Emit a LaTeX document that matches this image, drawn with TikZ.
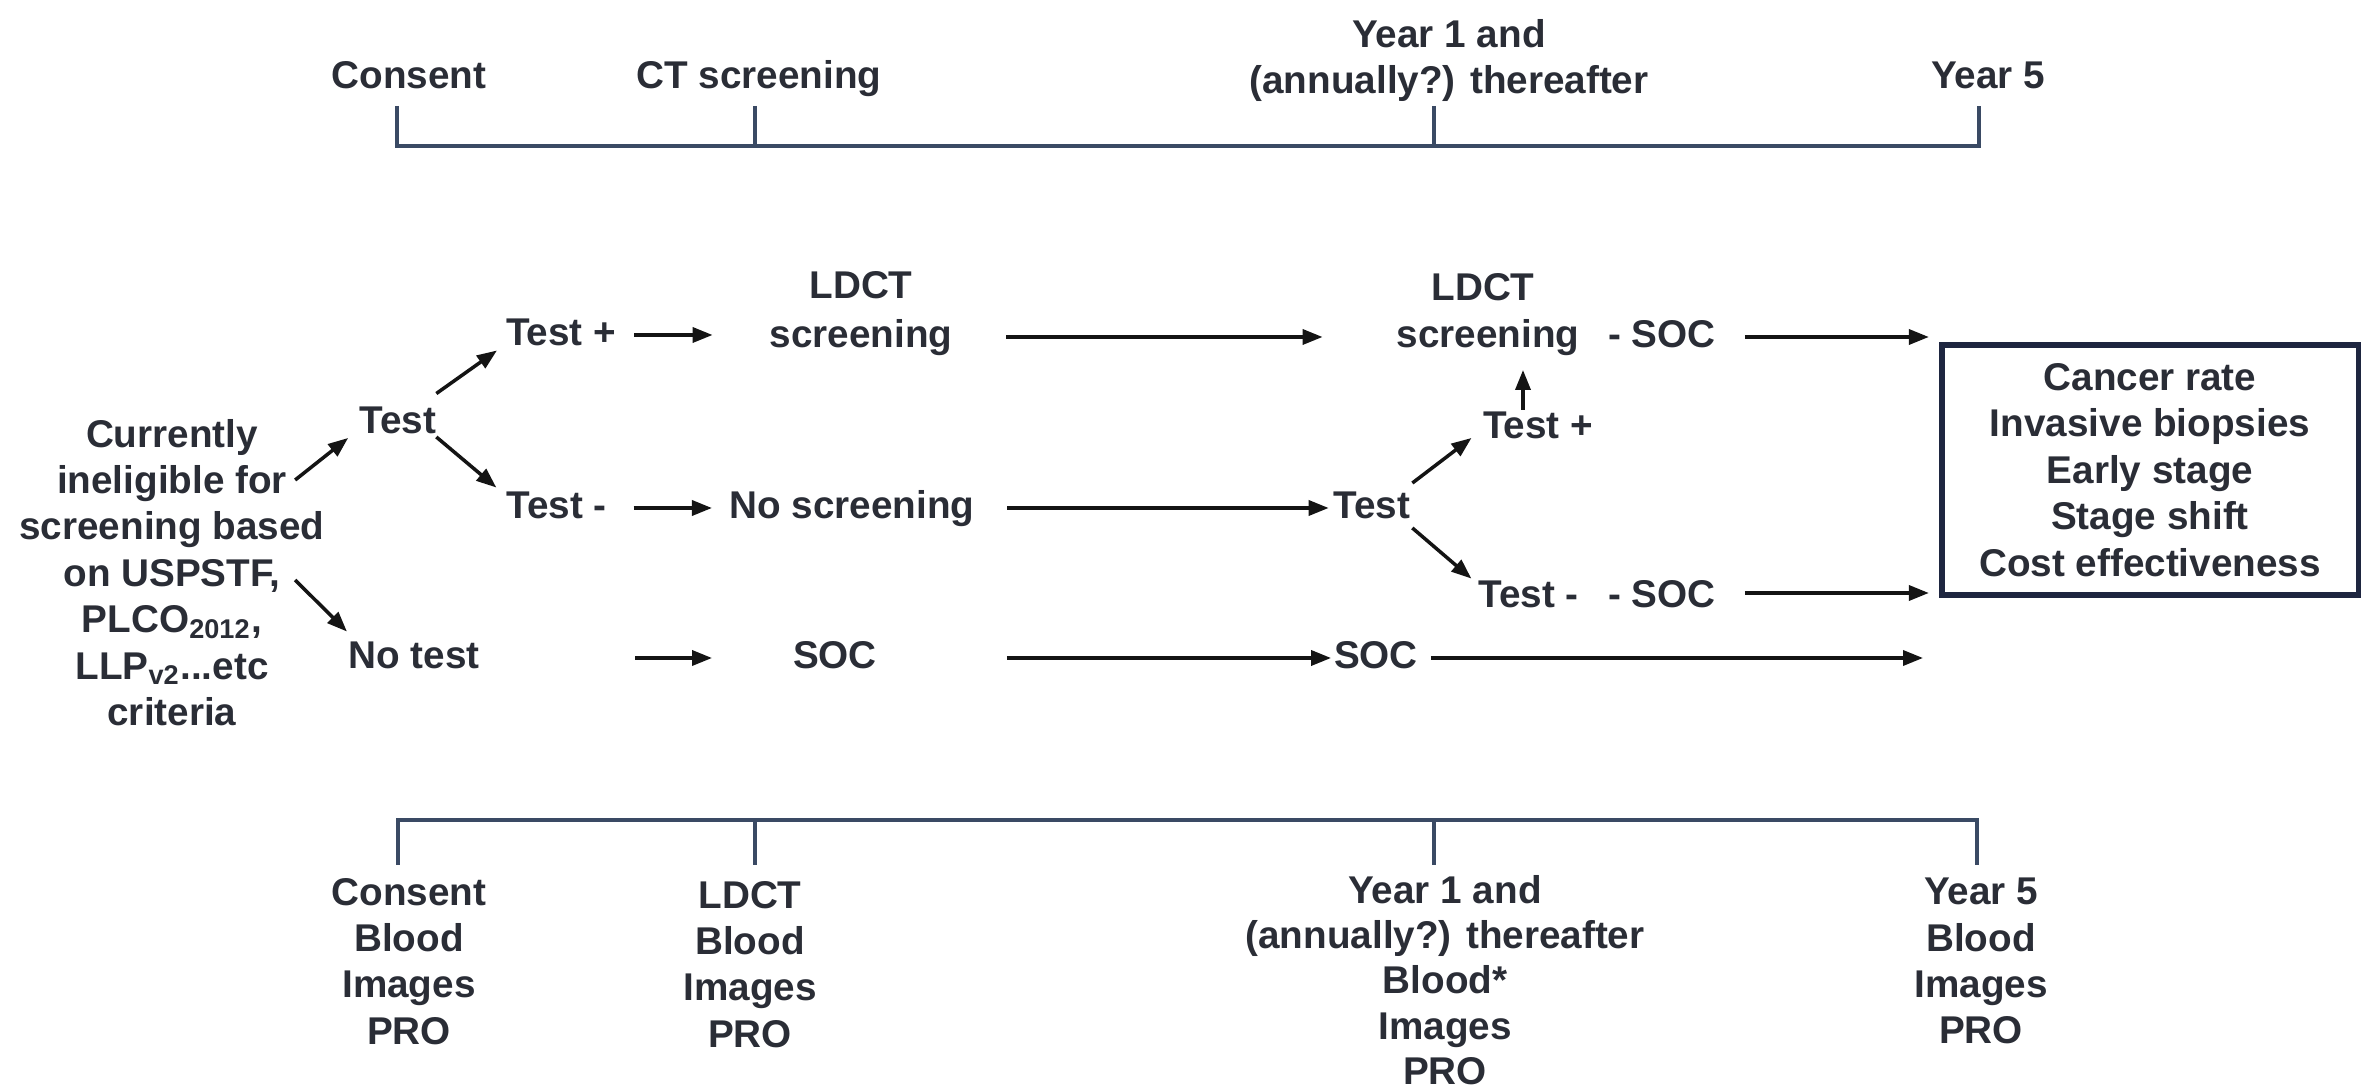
\documentclass[tikz,border=0pt]{standalone}
\usepackage{fontspec}
\setmainfont{Liberation Sans}
\usetikzlibrary{arrows.meta}
\definecolor{textc}{HTML}{2A2D36}
\definecolor{tlc}{HTML}{3A4A64}
\definecolor{boxc}{HTML}{1E2640}
\definecolor{arrc}{HTML}{141414}
\begin{document}
\begin{tikzpicture}[x=0.01cm,y=-0.01cm,
  txt/.style={font=\fontsize{11pt}{13.2pt}\selectfont\bfseries, text=textc, inner sep=0pt, outer sep=0pt},
  lbl/.style={txt, text height=8.2pt, text depth=2.3pt},
  multi/.style={txt, align=center, anchor=north},
  arr/.style={draw=arrc, line width=1pt, -{Triangle[length=0.2cm,width=0.15cm]}},
  tl/.style={draw=tlc, line width=1.4pt},
  outbox/.style={draw=boxc, line width=1.5pt, minimum width=4.16cm, minimum height=2.5cm, inner sep=0pt, outer sep=0pt}
]
\useasboundingbox (0,0) rectangle (2366,1092);

% ---------- top timeline ----------
\draw[tl] (397,106) -- (397,146) -- (1979,146) -- (1979,106);
\draw[tl] (755,106) -- (755,146);
\draw[tl] (1434,106) -- (1434,146);
\node[lbl] (tConsent) at (409,78) {Consent};
\node[lbl] (tCT) at (759,78) {CT screening};
\node[multi] (tY1) at (1449,19) {Year 1 and\\(annually?) thereafter};
\node[lbl] (tY5) at (1988,78) {Year 5};

% ---------- bottom timeline ----------
\draw[tl] (398,865) -- (398,820) -- (1977,820) -- (1977,865);
\draw[tl] (755,820) -- (755,865);
\draw[tl] (1434,820) -- (1434,865);
\node[multi] (bC) at (409,878) {Consent\\Blood\\Images\\PRO};
\node[multi] (bL) at (750,881) {LDCT\\Blood\\Images\\PRO};
\node[multi, font=\fontsize{11pt}{12.9pt}\selectfont\bfseries] (bY1) at (1445,875) {Year 1 and\\(annually?) thereafter\\Blood*\\Images\\PRO};
\node[multi] (bY5) at (1981,878) {Year 5\\Blood\\Images\\PRO};

% ---------- flow ----------
\node[multi] (left) at (172,419) {Currently\\ineligible for\\screening based\\on USPSTF,\\PLCO\textsubscript{2012},\\LLP\textsubscript{v2}...etc\\criteria};
\node[lbl] (test1) at (398,423) {Test};
\node[lbl] (tp1) at (561,335) {Test +};
\node[lbl] (tm1) at (556.5,508) {Test -};
\node[lbl] (notest) at (414,658) {No test};
\node[lbl] (ldct1) at (861,288) {LDCT};
\node[lbl] (scr1) at (861,337) {screening};
\node[lbl] (nos) at (852,508) {No screening};
\node[lbl] (soc1) at (835,658) {SOC};

\node[lbl] (ldct2) at (1483,290) {LDCT};
\node[lbl] (scr2) at (1488,337) {screening};
\node[lbl] (socA) at (1662,337) {- SOC};
\node[lbl] (test2) at (1372,508) {Test};
\node[lbl] (tp2) at (1538,428) {Test +};
\node[lbl] (tm2) at (1528.5,597) {Test -};
\node[lbl] (socB) at (1662,597) {- SOC};
\node[lbl] (soc2) at (1376,658) {SOC};
\coordinate (e3) at (1923,658);

\node[outbox, txt, draw=boxc, align=center] (box) at (2150,470)
  {Cancer rate\\Invasive biopsies\\Early stage\\Stage shift\\Cost effectiveness};

% ---------- connectors ----------
\draw[arr] ([shift={(-29.5,61)}]left.north east) -- ([shift={(-11.5,-3.5)}]test1.south west);
\draw[arr] ([shift={(-29.5,161)}]left.north east) -- ([shift={(-1.5,-8)}]notest.north west);
\draw[arr] ([shift={(0,-11)}]test1.north east) -- ([shift={(-9,-3)}]tp1.south west);
\draw[arr] ([shift={(0,14)}]test1.east) -- ([shift={(-10,-2)}]tm1.north west);

\draw[arr, shorten <=0.18cm, shorten >=0.57cm] (tp1.east) -- (tp1.east -| scr1.west);
\draw[arr, shorten <=0.27cm, shorten >=0.175cm] (tm1.east) -- (nos.west);
\draw[arr, shorten <=1.555cm, shorten >=0.81cm] (notest.east) -- (soc1.west);

\draw[arr, shorten <=0.54cm, shorten >=0.74cm] (scr1.east) -- (scr2.west);
\draw[arr, shorten <=0.325cm, shorten >=0.05cm] (nos.east) -- (test2.west);
\draw[arr, shorten <=1.30cm, shorten >=0.03cm] (soc1.east) -- (soc2.west);
\draw[arr, shorten <=0.13cm] (soc2.east) -- (e3);

\draw[arr] ([shift={(2,-6.5)}]test2.north east) -- ([shift={(-11.5,-8.5)}]tp2.south west);
\draw[arr] ([shift={(2,1.5)}]test2.south east) -- ([shift={(-7,0)}]tm2.north west);
\draw[arr, shorten >=0.145cm] ([shift={(-15,0)}]tp2.north) -- ([shift={(35,0)}]scr2.south);

\draw[arr, shorten <=0.29cm, shorten >=0.13cm] (socA.east) -- (socA.east -| box.west);
\draw[arr, shorten <=0.29cm, shorten >=0.13cm] ([shift={(0,-4)}]socB.east) -- ([shift={(0,-4)}]socB.east -| box.west);
\end{tikzpicture}
\end{document}
